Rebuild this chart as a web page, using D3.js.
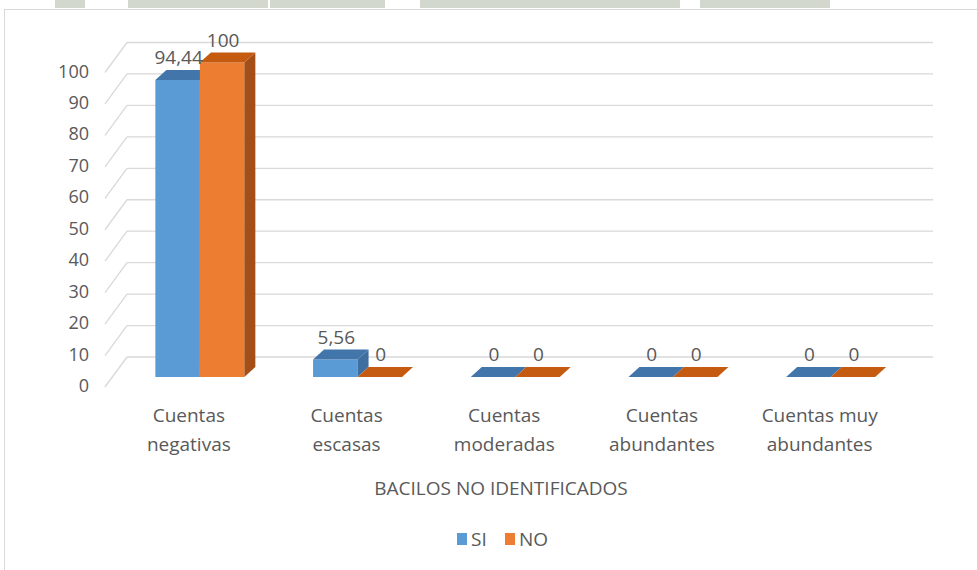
<!DOCTYPE html>
<html><head><meta charset="utf-8">
<script src="https://cdn.jsdelivr.net/npm/d3@7"></script>
<style>body{margin:0;background:#fff;}svg text{font-family:"Open Sans",sans-serif;fill:#595959;}</style>
</head><body>
<svg id="c" width="977" height="570"></svg>
<script>
const categories = [["Cuentas","negativas"],["Cuentas","escasas"],["Cuentas","moderadas"],["Cuentas","abundantes"],["Cuentas muy","abundantes"]];
const siValues = [94.44, 5.56, 0, 0, 0];
const noValues = [100, 0, 0, 0, 0];
const siLabels = ["94,44","5,56","0","0","0"];
const noLabels = ["100","0","0","0","0"];
const yTicks = [0,10,20,30,40,50,60,70,80,90,100];
const seriesNames = ["SI","NO"];
const axisTitle = "BACILOS NO IDENTIFICADOS";

const svg = d3.select("#c");
// watermark remnants at top
const wm = svg.append("g").attr("fill","#d3d8cf");
[[55,30],[128,140],[270,115],[420,140],[560,120],[700,130]].forEach(([x,w])=>wm.append("rect").attr("x",x).attr("y",0).attr("width",w).attr("height",8));
// chart border
svg.append("rect").attr("x",4.5).attr("y",9.5).attr("width",990).attr("height",600).attr("fill","#fff").attr("stroke","#d9d9d9");

const dx = 11, dy = -10; // depth of a bar
const y = d3.scaleLinear().domain([0,100]).range([377,62.5]);
const x = d3.scaleBand().domain(d3.range(categories.length)).range([121,909.5]);
const barW = 44.5;

const g = svg.append("g");
yTicks.forEach(t=>{
  const yb = y(t) - 20;
  g.append("line").attr("x1",127).attr("x2",933).attr("y1",yb).attr("y2",yb).attr("stroke","#d9d9d9").attr("stroke-width",1.3);
  g.append("line").attr("x1",105).attr("y1",y(t)+10).attr("x2",127).attr("y2",yb).attr("stroke","#d9d9d9").attr("stroke-width",1.3);
  g.append("text").attr("x",89).attr("y",y(t)+15).attr("text-anchor","end").attr("font-size",18).text(t);
});

const colors = [
  {front:"#5b9bd5", top:"#4276ab", side:"#3f6f9e"},
  {front:"#ed7d31", top:"#c55a11", side:"#a44f17"}
];
function drawBar(x0, v, c){
  const yt = y(v), yb = y(0);
  const bars = svg.append("g");
  if (v > 0) {
    bars.append("rect").attr("x",x0).attr("y",yt).attr("width",barW).attr("height",yb-yt).attr("fill",c.front);
    bars.append("path").attr("d",`M${x0+barW},${yt}L${x0+barW+dx},${yt+dy}L${x0+barW+dx},${yb+dy}L${x0+barW},${yb}Z`).attr("fill",c.side);
  }
  bars.append("path").attr("d",`M${x0},${yt}L${x0+dx},${yt+dy}L${x0+barW+dx},${yt+dy}L${x0+barW},${yt}Z`).attr("fill",c.top);
}
categories.forEach((cat,i)=>{
  const cx = x(i) + x.bandwidth()/2;
  drawBar(cx - barW, siValues[i], colors[0]);
  drawBar(cx, noValues[i], colors[1]);
});
categories.forEach((cat,i)=>{
  const cx = x(i) + x.bandwidth()/2;
  svg.append("text").attr("x",cx - barW/2 + 1).attr("y",y(siValues[i])+dy-6).attr("text-anchor","middle").attr("font-size",19).text(siLabels[i]);
  svg.append("text").attr("x",cx + barW/2 + 1).attr("y",y(noValues[i])+dy-6).attr("text-anchor","middle").attr("font-size",19).text(noLabels[i]);
  const t = svg.append("text").attr("text-anchor","middle").attr("font-size",19);
  cat.forEach((line,k)=>t.append("tspan").attr("x",cx-11).attr("y",422+k*29).text(line));
});
svg.append("text").attr("x",501).attr("y",495).attr("text-anchor","middle").attr("font-size",19).text(axisTitle);

const leg = svg.append("g");
const legX = [457, 505];
seriesNames.forEach((s,i)=>{
  leg.append("rect").attr("x",legX[i]).attr("y",533).attr("width",10).attr("height",12).attr("fill",colors[i].front);
  leg.append("text").attr("x",legX[i]+14).attr("y",546).attr("font-size",19).text(s);
});
</script>
</body></html>
